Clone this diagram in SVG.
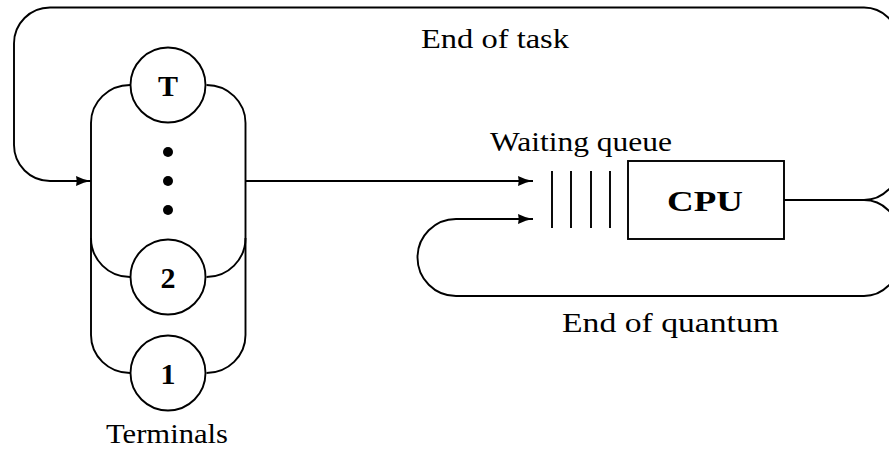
<svg xmlns="http://www.w3.org/2000/svg" width="889" height="455" viewBox="0 0 889 455">
  <style>
    .ln { fill: none; stroke: #000; stroke-width: 1.9; }
    .lbl { font-family: "Liberation Serif", "Times New Roman", serif; font-size: 28px; fill: #000; }
    .bld { font-family: "Liberation Serif", "Times New Roman", serif; font-size: 30px; font-weight: bold; fill: #000; }
  </style>
  <defs>
    <marker id="arr" markerUnits="userSpaceOnUse" markerWidth="16" markerHeight="12" refX="15" refY="5" orient="auto">
      <path d="M0,0 Q8,4 15,5 Q8,6 0,10 Q1.5,5 0,0 z" fill="#000"/>
    </marker>
  </defs>
  <rect width="889" height="455" fill="#fff"/>

  <g id="connectors">
    <path class="ln" d="M864 200 A34 34 0 0 0 898 166 L898 41 A34 34 0 0 0 864 7.5 L50 7.5 A36 36 0 0 0 14 43.5 L14 145 A36 36 0 0 0 50 181 L91 181" marker-end="url(#arr)"/>
    <path class="ln" d="M864 200 A34 34 0 0 1 898 234 L898 262 A34 34 0 0 1 864 296 L456 296 A38.5 38.5 0 0 1 456 219 L533 219" marker-end="url(#arr)"/>
    <path class="ln" d="M245.5 181 L533 181" marker-end="url(#arr)"/>
    <path class="ln" d="M784 200 L864 200"/>
  </g>

  <g id="terminals">
    <path class="ln" d="M91 335 L91 123 A39 38 0 0 1 130 85"/>
    <path class="ln" d="M245.5 335 L245.5 123 A39 38 0 0 0 206.5 85"/>
    <path class="ln" d="M91 238 A39 39 0 0 0 130 277"/>
    <path class="ln" d="M245.5 238 A39 39 0 0 1 206.5 277"/>
    <path class="ln" d="M91 335 A39 38 0 0 0 130 373"/>
    <path class="ln" d="M245.5 335 A39 38 0 0 1 206.5 373"/>
    <g id="term-T">
      <circle class="ln" cx="168" cy="85" r="37.5"/>
      <text class="bld" x="168" y="96" text-anchor="middle">T</text>
    </g>
    <g id="dots">
      <circle cx="168" cy="152" r="5" fill="#000"/>
      <circle cx="168" cy="181" r="5" fill="#000"/>
      <circle cx="168" cy="210" r="5" fill="#000"/>
    </g>
    <g id="term-2">
      <circle class="ln" cx="168" cy="277" r="37.5"/>
      <text class="bld" x="168" y="288" text-anchor="middle">2</text>
    </g>
    <g id="term-1">
      <circle class="ln" cx="168" cy="373" r="37.5"/>
      <text class="bld" x="168" y="384" text-anchor="middle">1</text>
    </g>
    <text class="lbl" x="106" y="443" textLength="122" lengthAdjust="spacingAndGlyphs">Terminals</text>
  </g>

  <g id="queue">
    <path class="ln" d="M552 171 L552 228 M571 171 L571 228 M591 171 L591 228 M610 171 L610 228"/>
    <text class="lbl" x="490" y="151" textLength="182" lengthAdjust="spacingAndGlyphs">Waiting queue</text>
  </g>

  <g id="cpu">
    <rect class="ln" x="628" y="161" width="156" height="78"/>
    <text class="bld" x="667" y="211" font-size="31" textLength="76" lengthAdjust="spacingAndGlyphs">CPU</text>
  </g>

  <g id="labels">
    <text class="lbl" x="421" y="48" textLength="148" lengthAdjust="spacingAndGlyphs">End of task</text>
    <text class="lbl" x="562" y="332" textLength="217" lengthAdjust="spacingAndGlyphs">End of quantum</text>
  </g>
</svg>
